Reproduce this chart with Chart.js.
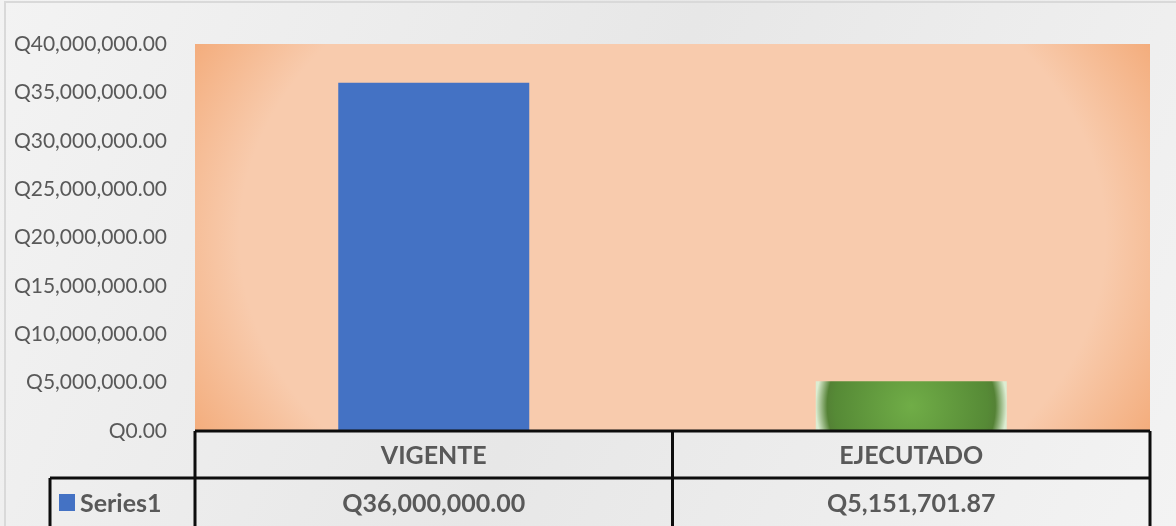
<!DOCTYPE html>
<html>
<head>
<meta charset="utf-8">
<script src="https://cdn.jsdelivr.net/npm/chart.js@4"></script>
<style>
  html, body { margin: 0; padding: 0; background: #f2f2f2; }
  #wrap { width: 1176px; height: 526px; }
</style>
</head>
<body>
<div id="wrap"><canvas id="myChart" width="1176" height="526"></canvas></div>
<script>
// data
const categories = ['VIGENTE', 'EJECUTADO'];
const seriesName = 'Series1';
const values = [36000000, 5151701.87];
const yTicks = [0, 5000000, 10000000, 15000000, 20000000, 25000000, 30000000, 35000000, 40000000];

const textGray = '#595959';

function money(v) {
  return 'Q' + v.toLocaleString('en-US', { minimumFractionDigits: 2, maximumFractionDigits: 2 });
}

// chart background + plot area fill
const bgPlugin = {
  id: 'bgPlugin',
  beforeDraw(chart) {
    const ctx = chart.ctx;
    const W = chart.width, H = chart.height;
    ctx.save();
    let g = ctx.createLinearGradient(0, 0, W, H);
    g.addColorStop(0, '#f3f3f3');
    g.addColorStop(0.5, '#e7e7e7');
    g.addColorStop(1, '#f3f3f3');
    ctx.fillStyle = g;
    ctx.fillRect(0, 0, W, H);
    ctx.strokeStyle = '#d9d9d9';
    ctx.lineWidth = 2;
    ctx.beginPath();
    ctx.moveTo(5, H);
    ctx.lineTo(5, 2);
    ctx.lineTo(W, 2);
    ctx.stroke();

    const a = chart.chartArea;
    const cx = (a.left + a.right) / 2, cy = (a.top + a.bottom) / 2;
    const rx = 555, ry = 410;
    ctx.save();
    ctx.beginPath();
    ctx.rect(a.left, a.top, a.right - a.left, a.bottom - a.top);
    ctx.clip();
    ctx.translate(cx, cy);
    ctx.scale(1, ry / rx);
    const rg = ctx.createRadialGradient(0, 0, 0, 0, 0, rx);
    rg.addColorStop(0, '#f8cbad');
    rg.addColorStop(0.78, '#f8cbad');
    rg.addColorStop(1, '#f3aa78');
    ctx.fillStyle = rg;
    ctx.fillRect(-rx * 2, -rx * 2, rx * 4, rx * 4);
    ctx.restore();
    ctx.restore();
  }
};

// data table under the plot
const tablePlugin = {
  id: 'tablePlugin',
  afterDraw(chart) {
    const ctx = chart.ctx;
    const a = chart.chartArea;
    const xs = chart.scales.x;
    const row1 = a.bottom, row2 = a.bottom + 47, row3 = chart.height + 2;
    const legLeft = 50;
    const n = categories.length;
    const colW = (a.right - a.left) / n;

    ctx.save();
    ctx.fillStyle = textGray;
    ctx.textAlign = 'center';
    ctx.textBaseline = 'middle';
    ctx.font = 'bold 25px Lato';
    categories.forEach((c, i) => {
      const x = xs.getPixelForValue(i);
      ctx.fillText(c, x, (row1 + row2) / 2 + 1);
      ctx.fillText(money(values[i]), x, (row2 + row3) / 2 + 1);
    });
    // legend cell
    ctx.fillStyle = '#4472c4';
    ctx.fillRect(59, 494, 16, 17);
    ctx.fillStyle = textGray;
    ctx.textAlign = 'left';
    ctx.fillText(seriesName, 80, (row2 + row3) / 2 + 1);

    ctx.strokeStyle = '#0d0d0d';
    ctx.lineWidth = 3;
    ctx.beginPath();
    ctx.moveTo(a.left, row1); ctx.lineTo(a.right, row1);
    ctx.moveTo(legLeft, row2); ctx.lineTo(a.right, row2);
    ctx.moveTo(legLeft, row2); ctx.lineTo(legLeft, row3);
    for (let i = 0; i <= n; i++) {
      const x = a.left + colW * i;
      ctx.moveTo(x, row1); ctx.lineTo(x, row3);
    }
    ctx.stroke();
    ctx.restore();
  }
};

function barColor(context) {
  const i = context.dataIndex;
  if (i === 0) return '#4472c4';
  const chart = context.chart;
  if (!chart.chartArea || !chart.scales.x) return '#5f9a3e';
  const xs = chart.scales.x, ys = chart.scales.y;
  const x = xs.getPixelForValue(i);
  const top = ys.getPixelForValue(values[i]);
  const bot = ys.getPixelForValue(0);
  const half = (chart.chartArea.right - chart.chartArea.left) / categories.length * 0.4 / 2;
  const g = chart.ctx.createRadialGradient(x, (top + bot) / 2, 0, x, (top + bot) / 2, half);
  g.addColorStop(0, '#70ad47');
  g.addColorStop(0.8, '#568a36');
  g.addColorStop(0.88, '#548235');
  g.addColorStop(1, '#dcedd2');
  return g;
}

window.onload = function() {
  var ctx = document.getElementById('myChart').getContext('2d');
  Chart.defaults.font.family = 'Lato';
  Chart.defaults.color = textGray;
  new Chart(ctx, {
    type: 'bar',
    data: {
      labels: categories,
      datasets: [{
        label: seriesName,
        data: values,
        backgroundColor: barColor,
        borderWidth: 0,
        categoryPercentage: 1,
        barPercentage: 0.4
      }]
    },
    options: {
      responsive: false,
      animation: false,
      layout: { padding: { left: 0, top: 44, right: 26, bottom: 95 } },
      plugins: {
        legend: { display: false },
        tooltip: { enabled: false }
      },
      scales: {
        x: {
          display: false
        },
        y: {
          min: 0,
          max: 40000000,
          afterBuildTicks(scale) { scale.ticks = yTicks.map(v => ({ value: v })); },
          afterFit(scale) { scale.width = 195; },
          grid: { display: false, drawTicks: false },
          border: { display: false },
          ticks: {
            padding: 28,
            font: { size: 21 },
            color: textGray,
            callback: v => money(v)
          }
        }
      }
    },
    plugins: [bgPlugin, tablePlugin]
  });
};
</script>
</body>
</html>
